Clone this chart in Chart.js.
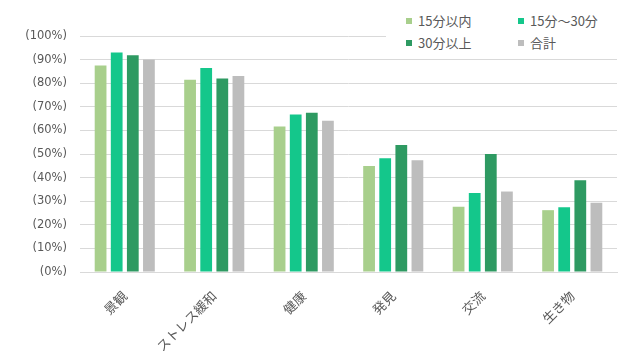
<!DOCTYPE html>
<html><head><meta charset="utf-8">
<script src="https://cdn.jsdelivr.net/npm/chart.js@4/dist/chart.umd.min.js"></script>
<style>
html,body{margin:0;padding:0;background:#fff;}
#wrap{position:relative;width:630px;height:361px;}
#legend{position:absolute;left:386px;top:6px;width:238px;height:46px;background:#fff;font-family:"Noto Sans CJK JP",sans-serif;font-size:13px;color:#595959;}
.li{position:absolute;display:flex;align-items:center;white-space:nowrap;line-height:14px;}
.sw{width:6px;height:6px;margin-right:6px;}
</style></head><body>
<div id="wrap"><canvas id="c" width="630" height="361"></canvas><div id="legend"></div></div>
<script>
const categories = ["景観", "ストレス緩和", "健康", "発見", "交流", "生き物"];
const seriesNames = ["15分以内", "15分～30分", "30分以上", "合計"];
const within15 = [87.5, 81.5, 61.7, 44.9, 27.6, 26.2];
const from15to30 = [93.0, 86.4, 66.7, 48.2, 33.5, 27.4];
const over30 = [91.8, 82.0, 67.5, 53.8, 50.0, 38.9];
const total = [90.0, 83.0, 64.1, 47.3, 34.1, 29.3];
const yTicks = [0, 10, 20, 30, 40, 50, 60, 70, 80, 90, 100];
const colors = ["#a8cf8c", "#14c78b", "#2e9a62", "#bdbdbd"];

const values = [within15, from15to30, over30, total];
const datasets = values.map((d, i) => ({
  label: seriesNames[i], data: d, backgroundColor: colors[i],
  categoryPercentage: 0.72, barPercentage: 0.73
}));

new Chart(document.getElementById('c'), {
  type: 'bar',
  data: { labels: categories, datasets },
  options: {
    responsive: false, animation: false,
    layout: { padding: { top: 36, right: 13, left: 0, bottom: 0 } },
    plugins: { legend: { display: false }, tooltip: { enabled: false } },
    scales: {
      x: {
        grid: { display: false, drawTicks: false },
        border: { color: '#d9d9d9' },
        ticks: { maxRotation: 45, minRotation: 45, padding: 16, color: '#595959',
          font: { family: '"Noto Sans CJK JP"', size: 13 } },
        afterFit: s => { s.height = 89; }
      },
      y: {
        min: 0, max: 100,
        afterBuildTicks: s => { s.ticks = yTicks.map(v => ({ value: v })); },
        grid: { color: '#d9d9d9', drawTicks: false },
        border: { display: false },
        ticks: { padding: 13, color: '#595959',
          font: { family: 'DejaVu Sans', size: 11.5 },
          callback: v => '(' + v + '%)' },
        afterFit: s => { s.width = 80; }
      }
    }
  }
});

const pos = [[20, 8], [132, 8], [20, 30], [132, 30]];
const lg = document.getElementById('legend');
seriesNames.forEach((n, i) => {
  const d = document.createElement('div');
  d.className = 'li';
  d.style.left = pos[i][0] + 'px'; d.style.top = pos[i][1] + 'px';
  d.innerHTML = '<span class="sw" style="background:' + colors[i] + '"></span><span>' + n + '</span>';
  lg.appendChild(d);
});
</script>
</body></html>
